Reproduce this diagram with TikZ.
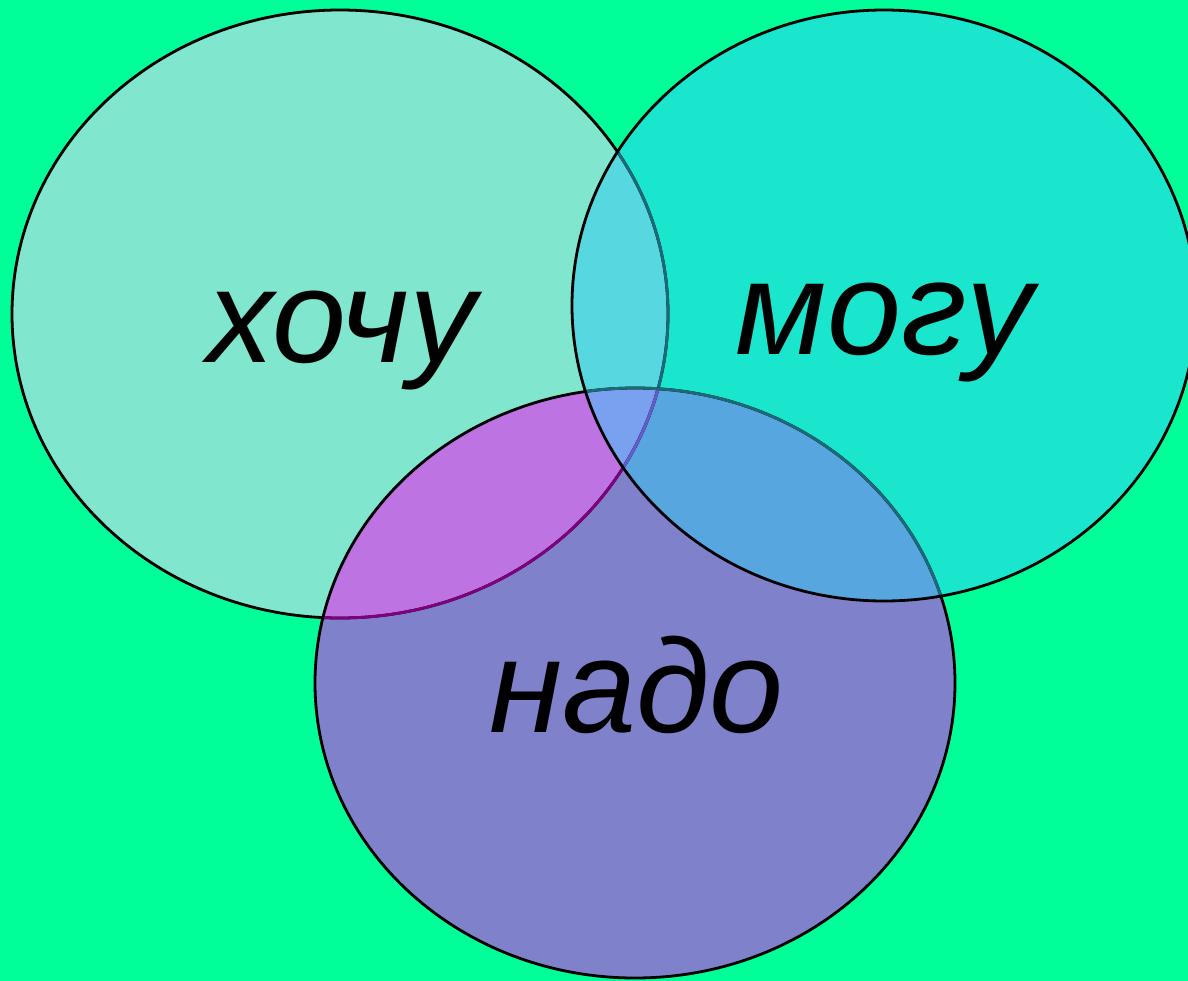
\documentclass[tikz,border=0pt]{standalone}
\usepackage{fontspec}
\setmainfont{Liberation Sans}
\definecolor{bg}{HTML}{00FF99}
\definecolor{hochu}{HTML}{80E6CD}
\definecolor{mogu}{HTML}{1AE5CD}
\definecolor{nado}{HTML}{7F82CB}
\definecolor{hm}{HTML}{57D7DF}
\definecolor{hn}{HTML}{BE73E2}
\definecolor{mn}{HTML}{57A6E0}
\definecolor{hmn}{HTML}{7AA0F0}
\definecolor{tealline}{HTML}{1A6A7A}
\definecolor{purpleline}{HTML}{800080}
\definecolor{blueline}{HTML}{5F5FCC}
\def\hochuE{(340,314) ellipse [x radius=328pt, y radius=304pt]}
\def\moguE{(884,305.5) ellipse [x radius=312pt, y radius=295.5pt]}
\def\nadoE{(635,683) ellipse [x radius=320pt, y radius=295pt]}
\begin{document}
\begin{tikzpicture}[x=1pt,y=-1pt,
		rim/.style={line width=2.8pt},
		word/.style={anchor=base,inner sep=0pt,font=\fontsize{133}{133}\selectfont\itshape}]
	\useasboundingbox (0,0) rectangle (1188,980);
	\fill[bg] (-3,-3) rectangle (1191,983);
	% fills
	\fill[hochu] \hochuE;
	\fill[mogu] \moguE;
	\fill[nado] \nadoE;
	\begin{scope}
		\clip \hochuE;
		\fill[hm] \moguE;
		\fill[hn] \nadoE;
		\clip \moguE;
		\fill[hmn] \nadoE;
	\end{scope}
	\begin{scope}
		\clip \moguE;
		\fill[mn] \nadoE;
		\clip \hochuE;
		\fill[hmn] \nadoE;
	\end{scope}
	% outlines
	\draw[rim,black] \hochuE;
	\begin{scope}
		\clip \moguE;
		\draw[rim,tealline] \hochuE;
	\end{scope}
	\begin{scope}
		\clip \nadoE;
		\draw[rim,purpleline] \hochuE;
		\clip \moguE;
		\draw[rim,blueline] \hochuE;
	\end{scope}
	\draw[rim,black] \nadoE;
	\begin{scope}
		\clip \moguE;
		\draw[rim,tealline] \nadoE;
	\end{scope}
	\draw[rim,black] \moguE;
	% words
	\node[word] (hochuw) at (342,362) {хочу};
	\node[word] (moguw) at (884.5,354) {могу};
	\node[word] (nadow) at (636.5,732) {надо};
\end{tikzpicture}
\end{document}
